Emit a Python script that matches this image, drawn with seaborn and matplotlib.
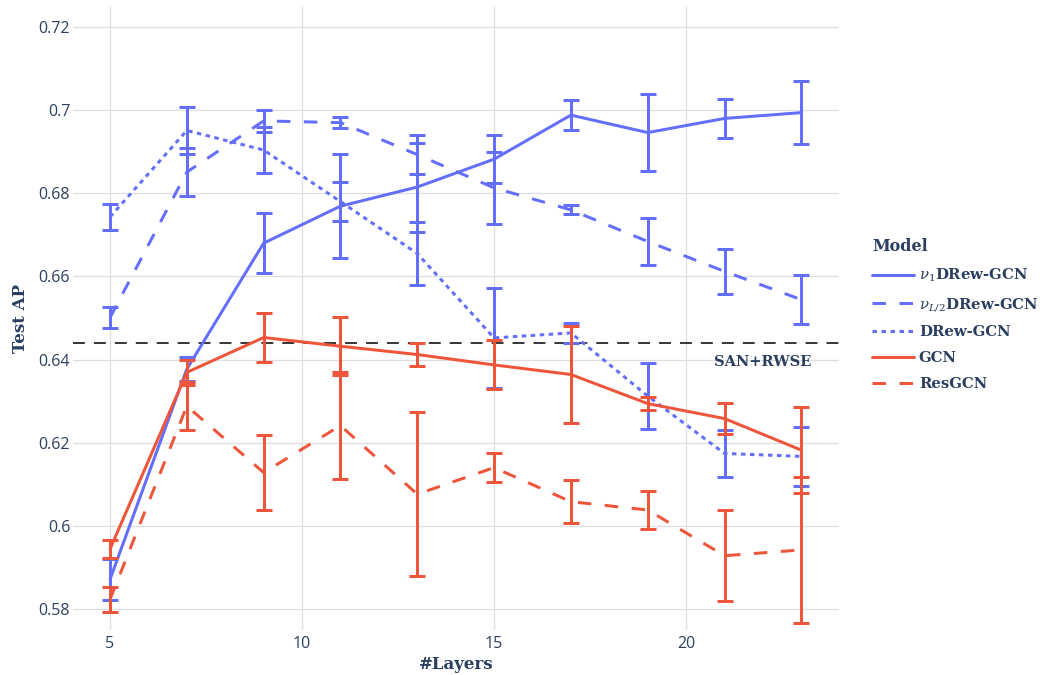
import matplotlib
matplotlib.use("Agg")
import matplotlib.pyplot as plt
from matplotlib.lines import Line2D
import numpy as np
import pandas as pd
import seaborn as sns

# ---- data -------------------------------------------------------------
layers = [5, 7, 9, 11, 13, 15, 17, 19, 21, 23]

models = ["nu1", "nuL2", "drew", "gcn", "resgcn"]
model_labels = [r"$\nu_1$DRew-GCN", r"$\nu_{L/2}$DRew-GCN", "DRew-GCN", "GCN", "ResGCN"]

nu1_mean = [0.5871, 0.6377, 0.6680, 0.6769, 0.6815, 0.6882, 0.6988, 0.6946, 0.6980, 0.6994]
nu1_err = [0.0049, 0.0029, 0.0072, 0.0125, 0.0107, 0.0058, 0.0037, 0.0093, 0.0047, 0.0076]

nuL2_mean = [0.6501, 0.6851, 0.6974, 0.6970, 0.6893, 0.6813, 0.6760, 0.6684, 0.6612, 0.6544]
nuL2_err = [0.0025, 0.0058, 0.0026, 0.0013, 0.0047, 0.0087, 0.0011, 0.0057, 0.0054, 0.0059]

drew_mean = [0.6743, 0.6951, 0.6904, 0.6780, 0.6655, 0.6452, 0.6464, 0.6312, 0.6174, 0.6167]
drew_err = [0.0031, 0.0057, 0.0055, 0.0047, 0.0076, 0.0120, 0.0025, 0.0079, 0.0057, 0.0071]

gcn_mean = [0.5944, 0.6369, 0.6453, 0.6432, 0.6412, 0.6387, 0.6364, 0.6294, 0.6258, 0.6182]
gcn_err = [0.0022, 0.0030, 0.0060, 0.0070, 0.0028, 0.0059, 0.0117, 0.0016, 0.0037, 0.0103]

resgcn_mean = [0.5823, 0.6288, 0.6128, 0.6241, 0.6076, 0.6140, 0.6058, 0.6038, 0.5928, 0.5942]
resgcn_err = [0.0030, 0.0058, 0.0090, 0.0129, 0.0197, 0.0035, 0.0052, 0.0046, 0.0109, 0.0176]

baseline_value = 0.644
baseline_label = "SAN+RWSE"

y_ticks = [0.58, 0.60, 0.62, 0.64, 0.66, 0.68, 0.70, 0.72]
y_tick_labels = ["0.58", "0.6", "0.62", "0.64", "0.66", "0.68", "0.7", "0.72"]
x_ticks = [5, 10, 15, 20]

# ---- styling ----------------------------------------------------------
BLUE = "#636efa"
RED = "#ef553b"
TEXT = "#2a3f5f"
palette = {"nu1": BLUE, "nuL2": BLUE, "drew": BLUE, "gcn": RED, "resgcn": RED}
dash_map = {"nu1": "", "nuL2": (4.5, 4.5), "drew": (1.5, 1.5), "gcn": "", "resgcn": (4.5, 4.5)}
LW = 2.16

sns.set_theme(style="white")
plt.rcParams["font.family"] = ["DejaVu Serif"]
plt.rcParams["mathtext.fontset"] = "dejavuserif"

means = [nu1_mean, nuL2_mean, drew_mean, gcn_mean, resgcn_mean]
errs = [nu1_err, nuL2_err, drew_err, gcn_err, resgcn_err]

df = pd.concat(
    [pd.DataFrame({"model": m, "layers": layers, "ap": mu, "err": e})
     for m, mu, e in zip(models, means, errs)],
    ignore_index=True,
)

fig = plt.figure(figsize=(10.44, 6.75), dpi=100)
ax = fig.add_axes([73 / 1044, 1 - 630 / 675, (839 - 73) / 1044, (630 - 7) / 675])

for i, m in enumerate(models):
    sub = df[df["model"] == m]
    ax.errorbar(sub["layers"], sub["ap"], yerr=sub["err"], fmt="none",
                ecolor=palette[m], elinewidth=LW, capsize=5.8, capthick=LW,
                zorder=3 + 2 * i)
    sns.lineplot(data=sub, x="layers", y="ap", color=palette[m], linewidth=LW,
                 ax=ax, legend=False, zorder=4 + 2 * i)
    line = ax.lines[-1]
    if dash_map[m]:
        line.set_dashes(dash_map[m])

# reference baseline
ax.axhline(baseline_value, color="black", linewidth=1.1, dashes=(7.8, 5.9), zorder=2)
ax.text(23.26, 0.6394, baseline_label, ha="right", va="center",
        fontsize=10.5, fontweight="bold", color=TEXT)

# axes
ax.set_xlim(4.036, 23.98)
ax.set_ylim(0.57493, 0.72481)
ax.set_xticks(x_ticks)
ax.set_xticklabels([str(t) for t in x_ticks])
ax.set_yticks(y_ticks)
ax.set_yticklabels(y_tick_labels)
for lab in ax.get_xticklabels() + ax.get_yticklabels():
    lab.set_fontfamily("Open Sans")
    lab.set_fontsize(11.5)
    lab.set_color(TEXT)
ax.tick_params(axis="x", length=0, pad=4)
ax.tick_params(axis="y", length=0, pad=2)
ax.grid(True, color="#dedede", linewidth=0.9)
ax.set_axisbelow(True)
for s in ax.spines.values():
    s.set_visible(False)

ax.set_xlabel("#Layers", fontsize=12, fontweight="bold", color=TEXT, labelpad=3)
ax.set_ylabel("Test AP", fontsize=12, fontweight="bold", color=TEXT, labelpad=7)

# legend
handles = []
for m in models:
    h = Line2D([0], [0], color=palette[m], linewidth=LW)
    if dash_map[m]:
        h.set_dashes(dash_map[m])
    handles.append(h)
leg = fig.legend(handles, model_labels, title="Model", loc="upper left",
                 bbox_to_anchor=(872 / 1044, 1 - 238 / 675), frameon=False,
                 fontsize=10.7, title_fontsize=11.5, handlelength=2.8,
                 handletextpad=0.35, labelspacing=0.8, borderpad=0,
                 borderaxespad=0)
leg._legend_box.align = "left"
leg.get_title().set_fontweight("bold")
leg.get_title().set_color(TEXT)
for t in leg.get_texts():
    t.set_fontweight("bold")
    t.set_color(TEXT)

fig.savefig("out.png", dpi=100)
